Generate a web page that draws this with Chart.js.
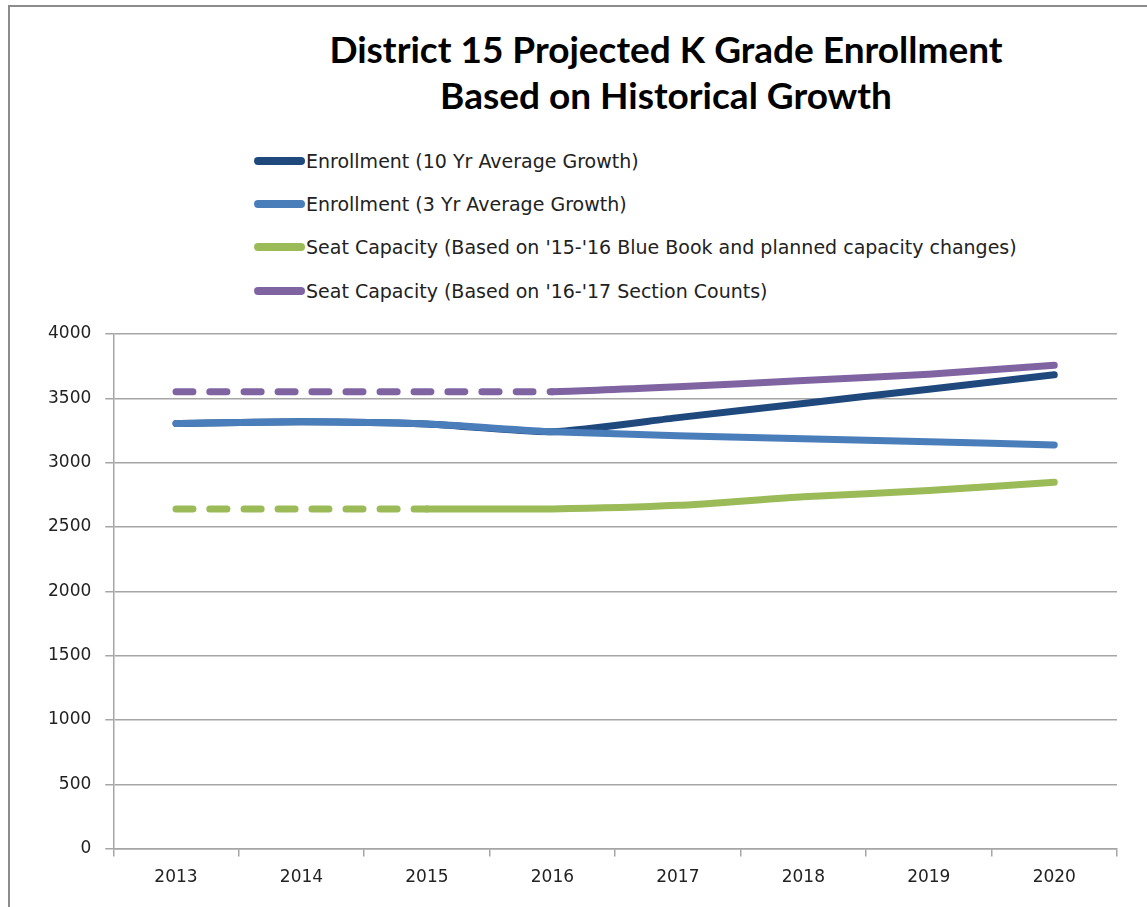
<!DOCTYPE html>
<html>
<head>
<meta charset="utf-8">
<script src="https://cdn.jsdelivr.net/npm/chart.js@4.4.1/dist/chart.umd.min.js"></script>
<style>
  html, body { margin: 0; padding: 0; width: 1147px; height: 907px; overflow: hidden; background: #fff; }
  #frame { position: absolute; left: 8px; top: 5px; width: 1300px; height: 1100px; border: 2px solid #8c8c8c; }
  #title { position: absolute; left: 216px; width: 900px; top: 26px; text-align: center;
           font-family: Lato, sans-serif; font-weight: bold; font-size: 37px; line-height: 46px; color: #000; }
  #legend { position: absolute; left: 254px; top: 148px; font-family: "DejaVu Sans", sans-serif; font-size: 19px; color: #222; }
  .item { height: 43.3px; display: flex; align-items: center; position: relative; top: -9px; }
  .swatch { width: 51px; height: 8px; border-radius: 4px; margin-right: 1px; }
  canvas { position: absolute; left: 0; top: 0; }
</style>
</head>
<body>
<div id="frame"></div>
<div id="title">District 15 Projected K Grade Enrollment<br>Based on Historical Growth</div>
<div id="legend"></div>
<canvas id="enrollmentChart" width="1147" height="907"></canvas>
<script>
// values
const years = ['2013', '2014', '2015', '2016', '2017', '2018', '2019', '2020'];
const enroll10Yr = [3305, 3318, 3300, 3240, 3350, 3460, 3571, 3683];
const enroll3Yr = [3305, 3318, 3300, 3240, 3210, 3185, 3163, 3137];
const seatBlueBook = [2640, 2640, 2640, 2640, 2668, 2735, 2783, 2847];
const seatSections = [3552, 3552, 3552, 3552, 3590, 3638, 3688, 3757];

const seriesNames = [
    'Enrollment (10 Yr Average Growth)',
    'Enrollment (3 Yr Average Growth)',
    "Seat Capacity (Based on '15-'16 Blue Book and planned capacity changes)",
    "Seat Capacity (Based on '16-'17 Section Counts)"
];
const seriesColors = ['#1f497d', '#4a7ebb', '#9bbb59', '#8064a2'];

// dashed up to this point index (existing capacity), solid after
function dashUntil(lastIndex) {
    return ctx => ctx.p1DataIndex <= lastIndex ? [17, 17] : undefined;
}

function lineDataset(i, values, extra) {
    return Object.assign({
        label: seriesNames[i],
        data: values,
        borderColor: seriesColors[i],
        backgroundColor: seriesColors[i],
        borderWidth: 7,
        borderCapStyle: 'round',
        borderJoinStyle: 'round',
        pointRadius: 0,
        tension: 0.2,
        fill: false
    }, extra || {});
}

// legend in the page, built from the same names and colours
const legendEl = document.getElementById('legend');
seriesNames.forEach((name, i) => {
    const row = document.createElement('div');
    row.className = 'item';
    row.innerHTML = '<span class="swatch" style="background:' + seriesColors[i] + '"></span><span>' + name + '</span>';
    legendEl.appendChild(row);
});

const gridGray = '#a6a6a6';
const ctx = document.getElementById('enrollmentChart').getContext('2d');
new Chart(ctx, {
    type: 'line',
    data: {
        labels: years,
        datasets: [
            lineDataset(0, enroll10Yr, { order: 1 }),
            lineDataset(1, enroll3Yr),
            lineDataset(2, seatBlueBook, { segment: { borderDash: dashUntil(2) } }),
            lineDataset(3, seatSections, { segment: { borderDash: dashUntil(3) } })
        ]
    },
    options: {
        responsive: false,
        animation: false,
        layout: {
            padding: { top: 334, left: 34, right: 30, bottom: 8 }
        },
        plugins: {
            legend: { display: false },
            title: { display: false },
            tooltip: { enabled: false }
        },
        scales: {
            x: {
                offset: true,
                grid: {
                    offset: true,
                    drawOnChartArea: false,
                    drawTicks: true,
                    tickLength: 8,
                    color: gridGray,
                    lineWidth: 1.5
                },
                border: { color: gridGray, width: 1.5 },
                ticks: {
                    color: '#222',
                    padding: 11,
                    font: { family: 'DejaVu Sans', size: 17 }
                }
            },
            y: {
                min: 0,
                max: 4000,
                ticks: {
                    stepSize: 500,
                    color: '#222',
                    padding: 14,
                    font: { family: 'DejaVu Sans', size: 17 },
                    callback: value => String(value)
                },
                grid: {
                    color: gridGray,
                    lineWidth: 1.5,
                    tickLength: 8
                },
                border: { color: gridGray, width: 1.5 }
            }
        }
    }
});
</script>
</body>
</html>
